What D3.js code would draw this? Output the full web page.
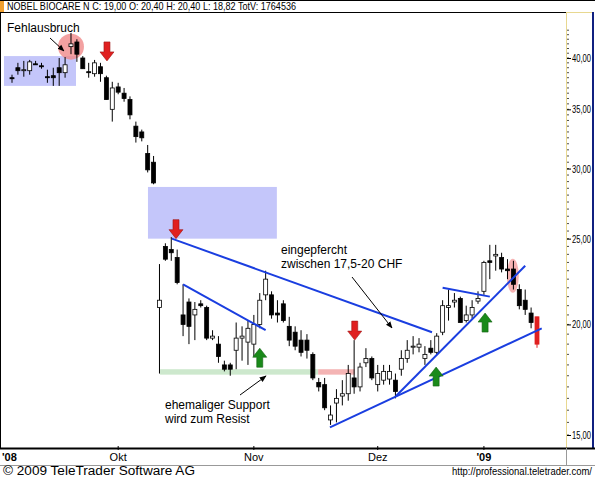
<!DOCTYPE html>
<html lang="de">
<head>
<meta charset="UTF-8">
<title>Nobel Biocare</title>
<script src="https://d3js.org/d3.v7.min.js"></script>
<style>
  body { margin: 0; background: #fff; }
  text { font-family: "Liberation Sans", Arial, sans-serif; }
</style>
</head>
<body>
<svg id="chart" width="595" height="477"></svg>
<script>
// candles (one per trading day)
const opens  = [38.0,39.0,38.7,38.7,39.4,39.2,38.1,38.2,39.0,38.5,41.2,41.7,40.0,38.6,38.4,39.1,38.0,35.0,37.1,36.5,35.9,33.5,33.0,31.2,30.5,
  20.9,24.5,24.3,23.8,20.5,21.2,20.5,21.1,20.9,19.3,19.0,18.0,18.0,18.7,19.3,19.1,19.0,20.0,21.6,21.6,20.6,21.1,19.9,19.6,19.2,19.2,18.5,17.2,17.1,
  15.6,16.3,16.6,16.7,17.4,17.0,18.1,18.3,17.1,17.3,17.35,17.3,17.8,18.3,18.85,18.85,18.3,18.8,18.6,19.6,20.9,21.2,21.4,20.2,20.5,21.25,21.8,
  23.6,23.9,23.8,23.1,23.1,21.9,21.3,20.6,20.4];
const highs  = [38.3,39.5,39.7,39.8,39.7,39.5,38.8,39.0,40.0,40.1,42.7,42.0,40.2,39.5,39.8,39.5,38.2,37.6,37.5,37.0,36.2,33.9,33.2,31.9,31.0,
  23.4,24.7,25.1,24.3,22.2,21.4,21.2,21.3,21.0,19.7,19.4,18.2,18.1,20.1,19.9,20.2,20.5,21.7,23.0,21.8,21.3,21.3,20.4,19.9,19.7,19.5,18.6,17.4,17.4,
  16.2,16.9,17.3,18.0,19.2,18.1,18.8,18.4,18.0,18.0,18.0,17.6,18.7,19.2,19.4,19.3,18.9,19.2,19.55,21.3,21.9,21.7,21.5,21.0,21.3,21.8,23.6,
  24.6,24.6,24.1,23.7,23.6,22.2,21.9,20.9,20.4];
const lows   = [37.5,38.3,38.1,38.3,39.3,38.9,37.5,37.2,37.2,38.0,40.4,39.6,38.9,38.0,38.1,37.6,35.9,33.9,36.4,35.7,34.1,32.1,32.2,29.7,28.8,
  17.6,23.6,23.6,22.2,19.4,19.0,19.2,20.9,19.2,19.2,18.1,17.7,17.5,17.8,18.2,18.0,18.4,19.8,21.3,20.3,20.1,20.1,18.9,18.7,18.4,18.3,17.3,16.8,16.0,
  15.4,15.5,16.2,16.4,16.7,16.8,17.9,17.3,16.8,17.1,17.1,16.5,17.5,18.1,18.5,18.6,18.0,18.5,18.5,19.45,20.2,20.9,20.1,20.1,20.3,21.1,21.6,
  22.5,23.0,22.9,22.5,21.9,20.8,20.5,19.8,18.82];
const closes = [37.9,38.7,38.8,39.6,39.3,39.1,38.0,38.0,38.5,39.3,41.5,40.4,38.9,38.5,39.5,38.4,35.9,37.0,36.6,36.0,34.5,32.6,32.5,29.9,28.9,
  21.3,23.7,24.1,22.3,20.0,19.9,20.8,21.0,19.3,19.4,18.4,17.8,17.8,19.3,19.4,19.8,20.0,21.3,22.5,20.5,20.5,20.2,19.2,18.9,18.6,18.7,17.4,17.0,16.1,
  15.8,16.5,16.7,17.6,17.0,17.9,18.3,17.4,17.6,17.7,17.7,16.8,18.3,18.7,18.9,19.0,18.5,18.6,19.4,21.0,21.0,21.3,20.1,20.5,20.9,21.4,23.5,
  23.5,24.0,23.1,23.0,22.2,21.0,20.8,20.1,19.0];

const monthLabels = ["'08", "Okt", "Nov", "Dez", "'09"];
const monthIndex  = [-1.5, 18, 41, 62, 80];
const priceTicks  = [15, 20, 25, 30, 35, 40];

// annotations in data space [index, price]
const trendLines = [
  [[27.1, 25.0], [71.2, 19.6]],
  [[29.0, 22.2], [43.0, 19.7]],
  [[53.9, 15.3], [89.8, 19.8]],
  [[65.1, 16.6], [87.0, 23.3]],
  [[73.0, 22.0], [81.0, 21.5]]
];
const boxes = [[-1.36, 10.85, 40.2, 37.2], [23.05, 44.9, 28.6, 25.0]];
const downArrows = [[16.1, 39.7], [27.8, 25.0], [58.1, 19.2]];
const upArrows   = [[42.0, 18.8], [80.2, 20.6], [71.9, 17.9]];

const W = 595, H = 477;
const plotR = 566, plotT = 12, plotB = 448;
const svg = d3.select("#chart");

const x = d3.scaleLinear().domain([0, 89]).range([12, 537]);
const y = d3.scaleLog().domain([15, 40]).range([435, 58]);

// frame
svg.append("rect").attr("x", 0).attr("y", 0).attr("width", 4).attr("height", 12).attr("fill", "#f0a030");
svg.append("text").attr("x", 7).attr("y", 10).attr("font-size", 11)
  .attr("textLength", 289).attr("lengthAdjust", "spacingAndGlyphs")
  .text("NOBEL BIOCARE N C: 19,00 O: 20,40 H: 20,40 L: 18,82 TotV: 1764536");
svg.append("line").attr("x1", 0).attr("x2", W).attr("y1", 0.5).attr("y2", 0.5).attr("stroke", "#000");
svg.append("rect").attr("x", 0.5).attr("y", plotT + 0.5).attr("width", plotR).attr("height", plotB - plotT)
  .attr("fill", "none").attr("stroke", "#000");
svg.append("line").attr("x1", plotR + 0.5).attr("x2", plotR + 0.5).attr("y1", plotT).attr("y2", plotB)
  .attr("stroke", "#e8d890");
svg.append("line").attr("x1", plotR).attr("x2", 592).attr("y1", plotT + 0.5).attr("y2", plotT + 0.5)
  .attr("stroke", "#e8d890");
svg.append("line").attr("x1", 593).attr("x2", 593).attr("y1", plotT).attr("y2", plotB)
  .attr("stroke", "#102080").attr("stroke-width", 2);
svg.append("line").attr("x1", 0).attr("x2", W).attr("y1", plotB + 0.5).attr("y2", plotB + 0.5).attr("stroke", "#000").attr("stroke-width", 2);
svg.append("line").attr("x1", 0).attr("x2", W).attr("y1", 465.5).attr("y2", 465.5).attr("stroke", "#999");
svg.append("line").attr("x1", plotR + 0.5).attr("x2", plotR + 0.5).attr("y1", plotB).attr("y2", 465).attr("stroke", "#999");

// background annotations
const g = svg.append("g");
boxes.forEach(b => {
  g.append("rect").attr("x", x(b[0])).attr("y", y(b[2]))
    .attr("width", x(b[1]) - x(b[0])).attr("height", y(b[3]) - y(b[2]))
    .attr("fill", "#c4c6fa");
});
g.append("rect").attr("x", x(25.1)).attr("y", y(17.8)).attr("width", x(51.9) - x(25.1))
  .attr("height", y(17.55) - y(17.8)).attr("fill", "#cde8cd");
g.append("rect").attr("x", x(51.9)).attr("y", y(17.8)).attr("width", x(58.1) - x(51.9))
  .attr("height", y(17.55) - y(17.8)).attr("fill", "#f4b4b4");
g.append("circle").attr("cx", x(10)).attr("cy", y(41.2)).attr("r", 13).attr("fill", "#f08a8a").attr("opacity", 0.8);
g.append("ellipse").attr("cx", x(84.9)).attr("cy", y(22.7)).attr("rx", 6).attr("ry", 17).attr("fill", "#f4a0a0").attr("opacity", 0.8);

// candles
const candles = svg.append("g");
opens.forEach((o, i) => {
  const c = closes[i], cx = x(i);
  const last = i === opens.length - 1;
  const col = last ? "#e02020" : "#000";
  candles.append("line").attr("x1", cx).attr("x2", cx).attr("y1", y(highs[i])).attr("y2", y(lows[i]))
    .attr("stroke", col);
  const top = y(Math.max(o, c)), bot = y(Math.min(o, c));
  candles.append("rect").attr("x", cx - 2).attr("y", top).attr("width", 4).attr("height", Math.max(bot - top, 1))
    .attr("fill", last ? "#e02020" : (c >= o ? "#fff" : "#000")).attr("stroke", col).attr("stroke-width", 0.8);
});

// trend lines
trendLines.forEach(l => {
  svg.append("line").attr("x1", x(l[0][0])).attr("y1", y(l[0][1])).attr("x2", x(l[1][0])).attr("y2", y(l[1][1]))
    .attr("stroke", "#1a3ee0").attr("stroke-width", 2);
});

// block arrows
function blockArrow(i, p, down, color) {
  const cx = x(i), ty = y(p), d = down ? -1 : 1;
  const pts = [[0, 0], [7, 9 * d], [3, 9 * d], [3, 19 * d], [-3, 19 * d], [-3, 9 * d], [-7, 9 * d]]
    .map(q => [cx + q[0], ty + q[1]]);
  svg.append("polygon").attr("points", pts.map(q => q.join(",")).join(" "))
    .attr("fill", color).attr("stroke", d3.color(color).darker(1)).attr("stroke-width", 0.6);
}
downArrows.forEach(a => blockArrow(a[0], a[1], true, "#e02020"));
upArrows.forEach(a => blockArrow(a[0], a[1], false, "#1a8a1a"));

// text annotations and pointer arrows
svg.append("defs").append("marker").attr("id", "ah").attr("viewBox", "0 0 10 10").attr("refX", 9).attr("refY", 5)
  .attr("markerWidth", 7).attr("markerHeight", 7).attr("orient", "auto")
  .append("path").attr("d", "M0,1 L10,5 L0,9 Z").attr("fill", "#000");
function note(lines, tx, ty) {
  lines.forEach((t, k) => svg.append("text").attr("x", tx).attr("y", ty + k * 14).attr("font-size", 12).text(t));
}
function pointer(x1, y1, x2, y2) {
  svg.append("line").attr("x1", x1).attr("y1", y1).attr("x2", x2).attr("y2", y2)
    .attr("stroke", "#000").attr("stroke-width", 1).attr("marker-end", "url(#ah)");
}
note(["Fehlausbruch"], 7, 32);
pointer(50, 38, 64, 51);
note(["eingepfercht", "zwischen 17,5-20 CHF"], 281, 254);
pointer(352, 277, 392, 328);
note(["ehemaliger Support", "wird zum Resist"], 165, 409);
pointer(240, 395, 266, 376);

// right axis
const minor = d3.range(15, 43.5, 0.5);
svg.append("g").selectAll("line").data(minor).join("line")
  .attr("x1", plotR + 1).attr("x2", plotR + 3).attr("y1", d => y(d)).attr("y2", d => y(d))
  .attr("stroke", "#000").attr("stroke-width", 0.7);
const ax = svg.append("g").attr("transform", `translate(${plotR + 1},0)`)
  .call(d3.axisRight(y).tickValues(priceTicks).tickSize(4).tickFormat(d => d3.format(".2f")(d).replace(".", ",")));
ax.select(".domain").remove();
ax.selectAll("text").attr("font-size", 11).attr("x", 5).attr("font-family", "Liberation Sans, Arial, sans-serif")
  .attr("textLength", 19).attr("lengthAdjust", "spacingAndGlyphs");

// bottom axis
monthIndex.forEach((m, k) => {
  const bold = monthLabels[k].startsWith("'");
  if (k > 0) svg.append("line").attr("x1", x(m)).attr("x2", x(m)).attr("y1", plotB - 2).attr("y2", plotB + 2).attr("stroke", "#000");
  svg.append("text").attr("x", k === 0 ? 2 : x(m)).attr("y", 461)
    .attr("text-anchor", k === 0 ? "start" : "middle").attr("font-size", 11)
    .attr("font-weight", bold ? "bold" : "normal").text(monthLabels[k]);
});

svg.append("text").attr("x", 3).attr("y", 475).attr("font-size", 12)
  .attr("textLength", 192).attr("lengthAdjust", "spacingAndGlyphs").text("\u00a9 2009 TeleTrader Software AG");
svg.append("text").attr("x", 592).attr("y", 475).attr("font-size", 11).attr("text-anchor", "end")
  .attr("textLength", 140).attr("lengthAdjust", "spacingAndGlyphs")
  .text("http://professional.teletrader.com/");
</script>
</body>
</html>
